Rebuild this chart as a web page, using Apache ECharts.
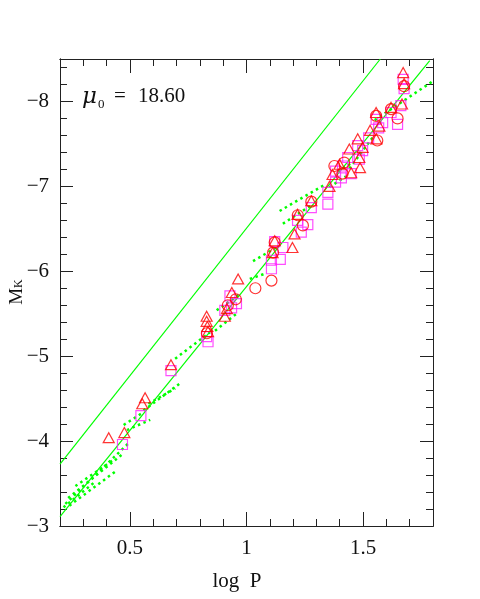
<!DOCTYPE html>
<html>
  <head>
    <meta charset="utf-8" />
    <title>K-band PL relation</title>
    <script src="https://cdn.jsdelivr.net/npm/echarts@6/dist/echarts.min.js"></script>
  </head>
  <body style="margin: 0">
    <div id="main" style="width: 480px; height: 599px"></div>
    <script type="text/javascript">
      // tick positions
      var xMajor = [0.5, 1, 1.5];
      var xMinor = [0.2, 0.3, 0.4, 0.5, 0.6, 0.7, 0.8, 0.9, 1.0, 1.1, 1.2, 1.3, 1.4, 1.5, 1.6, 1.7, 1.8];
      var yMajor = [-8, -7, -6, -5, -4, -3];
      var yMinor = [-8.4, -8.2, -8, -7.8, -7.6, -7.4, -7.2, -7, -6.8, -6.6, -6.4, -6.2, -6,
        -5.8, -5.6, -5.4, -5.2, -5, -4.8, -4.6, -4.4, -4.2, -4, -3.8, -3.6, -3.4, -3.2, -3];

      // [log P, M_K]
      var triangles = [
        [0.409, -4.04], [0.476, -4.10], [0.565, -4.51], [0.553, -4.44], [0.676, -4.90],
        [0.829, -5.47], [0.829, -5.41], [0.832, -5.35], [0.835, -5.29], [0.964, -5.91],
        [0.937, -5.75], [0.916, -5.56], [0.907, -5.47], [1.112, -6.22], [1.121, -6.36],
        [1.197, -6.28], [1.206, -6.44], [1.219, -6.67], [1.278, -6.83], [1.356, -7.00],
        [1.369, -7.14], [1.441, -7.44], [1.449, -7.16], [1.477, -7.56], [1.498, -7.46],
        [1.484, -7.34], [1.487, -7.22], [1.530, -7.66], [1.556, -7.87], [1.570, -7.71],
        [1.620, -7.93], [1.667, -7.97], [1.672, -8.34], [1.676, -8.21], [1.557, -7.56],
        [1.399, -7.26]
      ];
      var squares = [
        [0.468, -3.96], [0.547, -4.30], [0.676, -4.83], [0.829, -5.23], [0.835, -5.17],
        [0.929, -5.71], [0.957, -5.62], [0.907, -5.54], [0.936, -5.57], [1.107, -6.03],
        [1.107, -6.13], [1.121, -6.35], [1.145, -6.14], [1.156, -6.28], [1.235, -6.46],
        [1.263, -6.55], [1.219, -6.60], [1.278, -6.75], [1.349, -6.93], [1.349, -6.79],
        [1.382, -7.18], [1.412, -7.24], [1.434, -7.34], [1.449, -7.15], [1.477, -7.48],
        [1.498, -7.42], [1.484, -7.32], [1.524, -7.57], [1.556, -7.79], [1.584, -7.75],
        [1.567, -7.69], [1.620, -7.87], [1.648, -7.73], [1.662, -7.95], [1.672, -8.26],
        [1.676, -8.15], [1.407, -7.10], [1.382, -7.05]
      ];
      var circles = [
        [1.038, -5.80], [1.107, -5.89], [1.114, -6.22], [1.121, -6.34], [1.242, -6.54],
        [1.220, -6.66], [1.278, -6.82], [0.954, -5.67], [0.920, -5.60], [1.556, -7.83],
        [1.620, -7.91], [1.648, -7.80], [1.676, -8.18], [1.561, -7.54], [1.412, -7.15],
        [1.377, -7.24], [0.830, -5.27], [1.419, -7.28]
      ];

      // solid PL relations (end points)
      var fitLines = [
        [[0.2, -3.73], [1.574, -8.5]],
        [[0.2, -3.11], [1.786, -8.48]]
      ];

      // dotted segments
      var dottedLines = [
        [[0.223, -3.26], [0.50, -3.99]],
        [[0.266, -3.47], [0.43, -3.78]],
        [[0.24, -3.24], [0.437, -3.64]],
        [[0.235, -3.33], [0.47, -3.85]],
        [[0.215, -3.22], [0.35, -3.52]],
        [[0.473, -4.19], [0.558, -4.34]],
        [[0.487, -4.13], [0.587, -4.25]],
        [[0.558, -4.36], [0.715, -4.68]],
        [[0.579, -4.44], [0.694, -4.62]],
        [[0.694, -4.97], [0.843, -5.28]],
        [[0.872, -5.54], [0.971, -5.73]],
        [[0.865, -5.30], [0.957, -5.50]],
        [[1.028, -6.12], [1.128, -6.28]],
        [[1.014, -5.91], [1.078, -5.97]],
        [[1.142, -6.71], [1.342, -7.03]],
        [[1.156, -6.56], [1.285, -6.79]],
        [[1.356, -6.99], [1.427, -7.12]],
        [[1.391, -7.18], [1.456, -7.28]],
        [[1.441, -7.21], [1.548, -7.60]],
        [[1.55, -7.78], [1.80, -8.24]]
      ];

      var FONT = "Liberation Serif";
      var AXIS_COLOR = "#222";
      var GREEN = "#00ff00";

      var myChart = echarts.init(document.getElementById("main"), null, { renderer: "canvas" });

      function minus(v) {
        return v < 0 ? "\u2212" + Math.abs(v) : String(v);
      }

      function xAx(grid, pos, ticks, len, labels) {
        return {
          type: "value", gridIndex: grid, position: pos, min: 0.2, max: 1.8,
          axisLine: { show: true, lineStyle: { color: AXIS_COLOR, width: 1 } },
          axisTick: { show: true, inside: true, length: len, customValues: ticks, lineStyle: { color: AXIS_COLOR } },
          axisLabel: labels
            ? { show: true, customValues: xMajor, margin: 12, color: "#111", fontFamily: FONT, fontSize: 21, formatter: function (v) { return String(v); } }
            : { show: false },
          splitLine: { show: false }
        };
      }
      function yAx(grid, pos, ticks, len, labels) {
        return {
          type: "value", gridIndex: grid, position: pos, min: -8.5, max: -3, inverse: true,
          axisLine: { show: true, lineStyle: { color: AXIS_COLOR, width: 1 } },
          axisTick: { show: true, inside: true, length: len, customValues: ticks, lineStyle: { color: AXIS_COLOR } },
          axisLabel: labels
            ? { show: true, customValues: yMajor, margin: 11, color: "#111", fontFamily: FONT, fontSize: 21, formatter: minus }
            : { show: false },
          splitLine: { show: false }
        };
      }

      var gridRect = { left: 60, top: 59, width: 373, height: 467, containLabel: false, outerBoundsMode: "none" };
      var hollow = function (c) {
        return { color: "rgba(0,0,0,0)", borderColor: c, borderWidth: 1.2 };
      };

      var option = {
        animation: false,
        backgroundColor: "#fff",
        grid: [Object.assign({}, gridRect), Object.assign({}, gridRect)],
        xAxis: [
          xAx(0, "bottom", xMajor, 14, true),
          xAx(0, "top", xMajor, 14, false),
          xAx(1, "bottom", xMinor, 7, false),
          xAx(1, "top", xMinor, 7, false)
        ],
        yAxis: [
          yAx(0, "left", yMajor, 13, true),
          yAx(0, "right", yMajor, 13, false),
          yAx(1, "left", yMinor, 7, false),
          yAx(1, "right", yMinor, 7, false)
        ],
        graphic: [
          { type: "text", x: 82, y: 97, style: { text: "\u03bc", font: "italic 23px DejaVu Serif", fill: "#111", verticalAlign: "middle" } },
          { type: "text", x: 98, y: 105, style: { text: "0", font: "13px " + FONT, fill: "#111", verticalAlign: "middle" } },
          { type: "text", x: 114, y: 96, style: { text: "=", font: "21px " + FONT, fill: "#111", verticalAlign: "middle" } },
          { type: "text", x: 138, y: 96, style: { text: "18.60", font: "21px " + FONT, fill: "#111", verticalAlign: "middle" } },
          { type: "text", x: 237, y: 581, style: { text: "log  P", font: "21px " + FONT, fill: "#111", align: "center", verticalAlign: "middle" } },
          {
            // M_K, reading upward
            type: "text", x: 17.5, y: 292, rotation: Math.PI / 2,
            style: {
              text: "{m|M}{k|K}", align: "center", verticalAlign: "middle",
              rich: {
                m: { fontFamily: FONT, fontSize: 19, fill: "#111", verticalAlign: "middle", lineHeight: 20 },
                k: { fontFamily: FONT, fontSize: 12, fill: "#111", verticalAlign: "middle", lineHeight: 20, padding: [3, 0, 0, 0] }
              }
            }
          }
        ],
        series: [
          {
            type: "lines", coordinateSystem: "cartesian2d", xAxisIndex: 0, yAxisIndex: 0,
            data: fitLines.map(function (s) { return { coords: s }; }),
            lineStyle: { color: GREEN, width: 1.2, opacity: 1, curveness: 0 },
            silent: true
          },
          {
            type: "lines", coordinateSystem: "cartesian2d", xAxisIndex: 0, yAxisIndex: 0,
            data: dottedLines.map(function (s) { return { coords: s }; }),
            lineStyle: { color: GREEN, width: 2.5, opacity: 1, type: [2.5, 3.5], cap: "butt" },
            silent: true
          },
          {
            type: "scatter", xAxisIndex: 0, yAxisIndex: 0, data: squares,
            symbol: "rect", symbolSize: [10, 10], itemStyle: hollow("#ff22ff")
          },
          {
            type: "scatter", xAxisIndex: 0, yAxisIndex: 0, data: circles,
            symbol: "circle", symbolSize: 11, itemStyle: hollow("#ff0000")
          },
          {
            type: "scatter", xAxisIndex: 0, yAxisIndex: 0, data: triangles,
            symbol: "triangle", symbolSize: [11, 10], itemStyle: hollow("#ff0000")
          }
        ]
      };
      myChart.setOption(option);
    </script>
  </body>
</html>
